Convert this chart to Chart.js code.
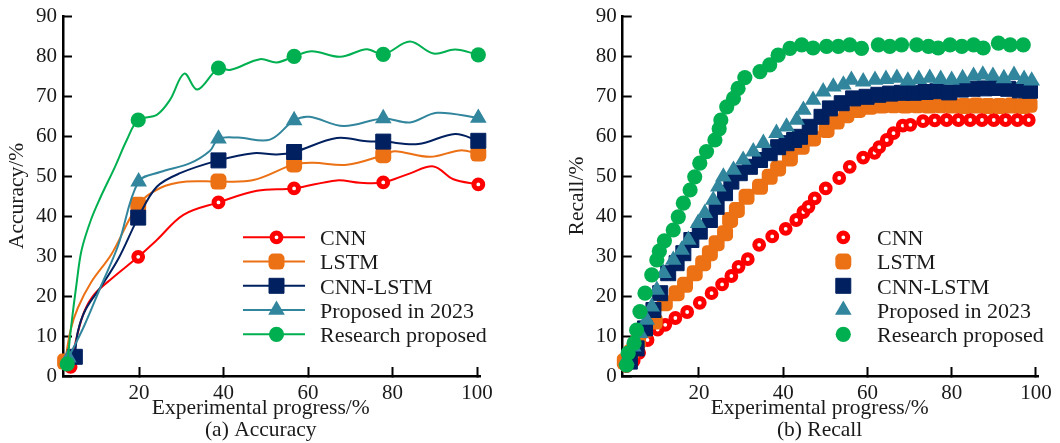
<!DOCTYPE html>
<html>
<head>
<meta charset="utf-8">
<script src="https://cdn.jsdelivr.net/npm/chart.js@4.4.1/dist/chart.umd.min.js"></script>
<style>
  html, body { margin: 0; padding: 0; background: #fff; }
  .wrap { display: flex; width: 1060px; height: 443px; }
  .wrap div { width: 530px; height: 443px; }
</style>
</head>
<body>
<div class="wrap">
  <div><canvas id="acc" width="530" height="443"></canvas></div>
  <div><canvas id="rec" width="530" height="443"></canvas></div>
</div>
<script>
// series names, shared by both panels
const seriesNames = ['CNN', 'LSTM', 'CNN-LSTM', 'Proposed in 2023', 'Research proposed'];
const xTickValues = [20, 40, 60, 80, 100];
const yTickValues = [0, 10, 20, 30, 40, 50, 60, 70, 80, 90];

// (a) Accuracy: [progress %, accuracy %, 1 = drawn with a symbol]
const accCNN = [[3.8,2.3,1],[5.2,9.5],[7,16],[9.5,20.5],[13.7,24.5],[19.8,29.8,1],[24.2,34],[30.5,40.3],
  [38.8,43.4,1],[47.9,46.3],[56.7,46.9,1],[66.8,48.9],[72.3,48.3],[77.8,48.4,1],[84,50.6],[89.7,52.4],[94.4,49.2],[100.3,47.9,1]];
const accLSTM = [[2.5,3.6,1],[3.8,11.5],[5.5,17],[8.7,23.5],[13.5,30.5],[19.8,42.8,1],[25,47],[31.3,48.6],
  [38.8,48.6,1],[47.1,49],[56.7,52.9,1],[61.3,53.3],[69.2,52.8],[77.8,55.2,1],[80.5,56.2],[88.9,54.8],[96,56.4],[100.3,55.6,1]];
const accCNNLSTM = [[4.8,4.8,1],[5.5,11],[7.3,16.5],[11.1,22.5],[15.2,29.5],[19.8,39.6,1],[24.2,47.3],[29.7,50.7],
  [38.8,53.9,1],[47.1,55.7],[52.6,55.4],[56.7,56,1],[66.8,59.5],[73.9,58.7],[77.8,58.6,1],[86.1,58],[94.8,60.5],[100.3,58.8,1]];
const accP2023 = [[3.3,4.6,1],[7,12.5],[11,22.5],[15,32.5],[19.9,48.6,1],[25,51],[32.1,53.2],[36.8,56.3],
  [38.8,59.3,1],[43.5,59.6],[51,59.1],[56.7,63.9,1],[60.3,64.8],[68.4,62.5],[77.8,64.4,1],[84.1,63.4],[90.5,65.8],[100.3,64.5,1]];
const accOurs = [[3,3,1],[4,13],[5.2,23],[6.4,31.5],[8.6,39],[10.8,44.5],[14.3,52.3],[17.1,59],[19.8,64,1],
  [24.2,65.3],[27.3,69],[30.7,75.6],[33.8,71.6],[38.8,77,1],[41.5,76.5],[48.6,79.2],[52.6,78.4],[56.7,79.9,1],
  [60.9,81.2],[67.6,79.8],[73.9,81.7],[77.8,80.4,1],[84.1,83.6],[89.7,80.6],[94.8,81.6],[100.3,80.3,1]];

// (b) Recall: [progress %, recall %]
const recCNN = [[2.8,2.5],[4.5,3.8],[5.8,5.8],[7.8,9],[10.2,11.6],[12,12.8],[14.4,14.5],[17.2,16],[20.2,18.3],
  [23,20.7],[25.5,22.9],[27.7,25],[29.4,27.3],[31.6,29.2],[34.3,32.8],[37.4,34.9],[40.6,36.8],[43.1,39],[44.8,41],
  [46,42.3],[47.5,44.4],[50.1,46.9],[53.3,49.5],[55.8,52.3],[59,54.6],[61.7,55.8],[62.8,57.2],[64.6,59],[66.2,60.7],
  [68.4,62.6],[70.2,62.8],[73.2,63.7],[76,63.9],[78.8,64],[81.6,64],[84.4,64],[87.2,64],[90,64],[92.8,64],[95.6,64],[98.3,64]];
const recLSTM = [[2.4,3.6],[4,6],[5.5,8.5],[7.2,11.5],[9.5,13.6],[11.9,18.2],[14.7,20.7],[16.7,22.8],[19,25.7],
  [21,28.2],[22.6,30.7],[24.2,33.2],[26.2,35.7],[27.4,39],[29,41.5],[31.3,44.8],[34.5,47.3],[36.8,49.8],[38.8,51.9],
  [41.6,54.4],[44.4,57.3],[47.1,59.4],[50.3,61.5],[52.7,63.6],[55,65.2],[57.8,66.5],[60.6,67.3],[63.4,67.6],[66.2,67.7],
  [69,67.6],[71.8,67.7],[74.6,67.6],[77.4,67.7],[80.2,67.6],[83,67.5],[85.8,67.6],[88.6,67.5],[91.4,67.5],[94.2,67.6],
  [97,67.5],[98.5,67.8]];
const recCNNLSTM = [[3.6,3.6],[5.2,6.9],[7.2,11.9],[9.2,16.5],[10.8,20.7],[12.7,25.7],[14.7,28.2],[16.3,30.7],
  [18.2,34],[20.2,36.1],[22.6,39],[24.2,42.3],[26.2,45.7],[27.7,48.6],[29.7,50.7],[32.1,52.3],[34.5,54],[36.8,55.7],
  [38.8,57.2],[40.8,58.2],[42.6,59],[44,59.8],[46.3,62.3],[49.1,64.8],[51.1,66.9],[53.9,68.2],[56.6,69.4],[59.8,69.8],
  [62.6,70.3],[65.4,70.6],[68.2,70.8],[71,70.8],[73.8,71],[76.6,71.2],[79.4,70.9],[82.2,71.6],[85,71.8],[87.8,71.9],
  [90.6,72],[93.4,71.8],[96.2,71.4],[98.6,71.3]];
const recP2023 = [[2.8,4],[4.4,7.3],[6,10.7],[7.6,14],[8.8,17.3],[10,21.5],[11.6,25.7],[13.9,29],[15.9,31.5],
  [17.5,34],[19.8,38.2],[21.4,40.7],[23.4,44],[24.6,47.3],[25.8,49.8],[28.2,51.5],[30.5,54],[32.9,56.1],[35.3,58.2],
  [38.4,60.7],[40.8,62.3],[43.2,64],[44.8,66.5],[47.1,69],[49.5,71.1],[51.9,72.3],[54.3,72.8],[56.2,74],[59,73.6],
  [61.8,74],[64.4,74.2],[67,74.5],[69.6,73.8],[72.2,74.2],[74.8,74.5],[77.4,74.2],[80,74],[82.6,74.4],[85.2,75],
  [87.4,75.3],[89.8,75],[92.4,74.4],[94.8,75.2],[97.2,74.2],[99,73.8]];
const recOurs = [[2.8,2.7],[3.2,5.7],[4.6,8.2],[5.2,11.5],[6,16.1],[7.2,20.7],[8.8,25.3],[10,29],[10.6,31.2],
  [11.8,33.8],[13.9,36.5],[15.1,39.8],[16.3,43.2],[17.9,46.5],[19,49.8],[20.2,53.2],[21.8,56.1],[23.8,59],[24.8,61.8],
  [25.2,64],[26.6,67.3],[28.2,69.4],[29.3,71.9],[30.9,74.6],[34.5,76.1],[36.8,77.8],[38.8,80.2],[41.6,81.9],[44.4,82.8],
  [47.1,82],[50.3,82.4],[53.1,82.4],[55.8,82.8],[58.6,81.9],[62.6,82.8],[65.3,82.4],[68.1,82.8],[71.7,82.8],[74.5,82.4],
  [76.8,82],[79.6,82.8],[82.4,82.4],[85.2,82.8],[87.5,82],[91.1,83.2],[93.9,82.8],[97,82.8]];

const FONT = '"Liberation Serif", "Times New Roman", serif';
const INK = '#1a1a1a';
const colors = ['#ff0000', '#ec7014', '#002060', '#31859c', '#00b050'];
const markers = [
  { style: 'circle', r: 4.4, bw: 5, fill: '#ffffff' },
  { style: 'rectRounded', r: 9.3, bw: 0 },
  { style: 'rect', r: 10.6, bw: 1 },
  { style: 'triangle', r: 9.6, bw: 0 },
  { style: 'circle', r: 7.6, bw: 0 }
];
// trailing spaces nudge the centred caption a little left, as in the original figure
const CAPTION_PAD = '    ';

// legend drawn inside the plot: optional line, symbol, name
const legendRows = {
  id: 'legendRows',
  afterDatasetsDraw(chart, args, o) {
    const ctx = chart.ctx;
    seriesNames.forEach((name, i) => {
      const y = o.top + i * o.step;
      const mk = markers[i];
      ctx.save();
      if (o.line) {
        ctx.strokeStyle = colors[i];
        ctx.lineWidth = 2;
        ctx.beginPath();
        ctx.moveTo(o.x0, y);
        ctx.lineTo(o.x1, y);
        ctx.stroke();
      }
      ctx.fillStyle = mk.fill || colors[i];
      ctx.strokeStyle = colors[i];
      ctx.lineWidth = mk.bw;
      Chart.helpers.drawPoint(ctx, { pointStyle: mk.style, radius: mk.r, rotation: 0, borderWidth: mk.bw }, o.mx, y);
      ctx.fillStyle = INK;
      ctx.font = '22px ' + FONT;
      ctx.textBaseline = 'middle';
      ctx.textAlign = 'left';
      ctx.fillText(name, o.tx, y + 2);
      ctx.restore();
    });
  }
};

function scales(xMin, xMax, yWidth, yTitle, yTitlePad, xTitle) {
  const titleFont = { family: FONT, size: 21.5, lineHeight: 1 };
  const tickFont = { family: FONT, size: 21 };
  return {
    x: {
      type: 'linear', min: xMin, max: xMax,
      afterBuildTicks: s => { s.ticks = xTickValues.map(v => ({ value: v })); },
      afterFit: s => { s.height = 67; s.paddingLeft = 0; s.paddingRight = 0; },
      border: { color: '#000', width: 2.5 },
      grid: { drawOnChartArea: false, tickLength: -9, tickWidth: 2, tickColor: '#000' },
      ticks: { padding: 14, color: INK, font: tickFont, maxRotation: 0 },
      title: { display: true, text: xTitle.map(t => t + CAPTION_PAD), color: INK, font: titleFont, padding: { top: 0, bottom: 2 } }
    },
    y: {
      type: 'linear', min: 0, max: 90,
      afterBuildTicks: s => { s.ticks = yTickValues.map(v => ({ value: v })); },
      afterFit: s => { s.width = yWidth; s.paddingTop = 0; s.paddingBottom = 0; },
      border: { color: '#000', width: 2.5 },
      grid: { drawOnChartArea: false, tickLength: -9, tickWidth: 2, tickColor: '#000' },
      ticks: { padding: 15, color: INK, font: tickFont },
      title: { display: true, text: yTitle, color: INK, font: titleFont, padding: { top: yTitlePad, bottom: 0 } }
    }
  };
}

function datasets(series, withLine) {
  return series.map((rows, i) => {
    const mk = markers[i];
    return {
      label: seriesNames[i],
      data: rows.map(([x, y, m]) => ({ x, y, m: withLine ? !!m : true })),
      showLine: withLine,
      tension: 0.35,
      borderColor: colors[i],
      borderWidth: 2,
      pointStyle: mk.style,
      pointRadius: c => (c.raw && c.raw.m ? mk.r : 0),
      pointBackgroundColor: mk.fill || colors[i],
      pointBorderColor: colors[i],
      pointBorderWidth: mk.bw,
      order: series.length - 1 - i,
      clip: false
    };
  });
}

function panel(id, cfg) {
  new Chart(document.getElementById(id), {
    type: 'scatter',
    data: { datasets: datasets(cfg.series, cfg.line) },
    options: {
      responsive: false,
      animation: false,
      events: [],
      devicePixelRatio: 1,
      layout: { padding: { top: 16, right: cfg.right, left: 0, bottom: 0 } },
      scales: scales(cfg.xMin, cfg.xMax, cfg.yWidth, cfg.yTitle, cfg.yTitlePad, cfg.xTitle),
      plugins: {
        legend: { display: false },
        tooltip: { enabled: false },
        legendRows: cfg.legend
      }
    },
    plugins: [legendRows]
  });
}

panel('acc', {
  series: [accCNN, accLSTM, accCNNLSTM, accP2023, accOurs], line: true,
  xMin: 2, xMax: 100.7, yWidth: 63, right: 50,
  yTitle: 'Accuracy/%', yTitlePad: 7,
  xTitle: ['Experimental progress/%', '(a) Accuracy'],
  legend: { line: true, x0: 243, x1: 305, mx: 276.5, tx: 320, top: 237.3, step: 24.25 }
});

panel('rec', {
  series: [recCNN, recLSTM, recCNNLSTM, recP2023, recOurs], line: false,
  xMin: 1.9, xMax: 100.5, yWidth: 92.7, right: 22,
  yTitle: 'Recall/%', yTitlePad: 37,
  xTitle: ['Experimental progress/%', '(b) Recall'],
  legend: { line: false, mx: 313.3, tx: 347, top: 237.3, step: 24.25 }
});
</script>
</body>
</html>
